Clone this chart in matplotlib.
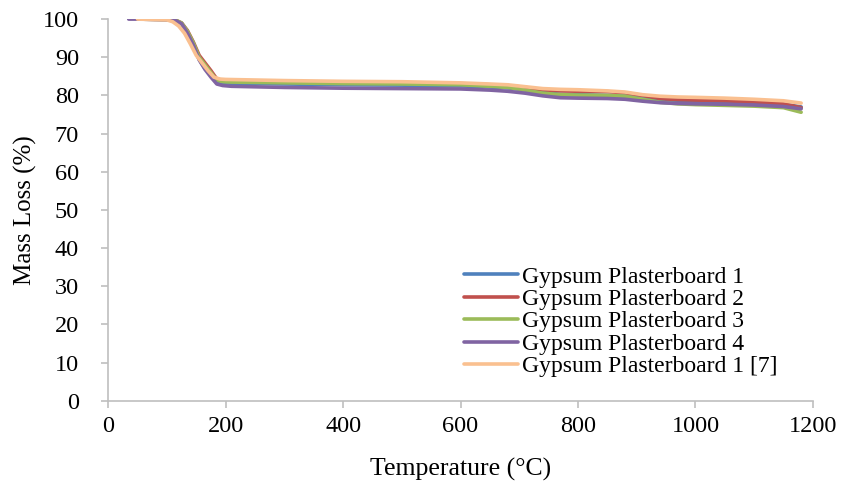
import matplotlib.pyplot as plt

plt.rcParams['font.family'] = ['Liberation Serif', 'DejaVu Serif']

# temperature grid (°C)
temp = [50, 100, 115, 125, 135, 145, 155, 165, 175, 185, 195, 210, 300, 400, 500,
        600, 650, 680, 710, 740, 770, 800, 850, 880, 910, 940, 970, 1000, 1050,
        1100, 1150, 1180]
temp_gp4 = [35] + temp
temp_ref = [50, 100, 110, 120, 130, 140, 150, 160, 170, 180, 190, 200, 300, 400,
            500, 600, 650, 680, 710, 740, 770, 800, 850, 880, 910, 940, 970, 1000,
            1050, 1100, 1150, 1180]

# mass remaining (%)
gp1 = [100, 99.9, 99.6, 98.8, 96.5, 93.5, 89.5, 87.0, 85.5, 83.8, 83.3, 83.2, 83.0,
       82.8, 82.7, 82.5, 82.2, 82.0, 81.5, 80.8, 80.3, 80.2, 80.0, 79.8, 79.2, 78.7,
       78.5, 78.4, 78.3, 78.1, 77.7, 77.0]
gp2 = [100, 99.9, 99.7, 99.0, 97.0, 94.0, 90.5, 88.5, 86.5, 84.3, 84.0, 83.8, 83.6,
       83.4, 83.3, 83.1, 82.8, 82.6, 82.1, 81.5, 81.2, 81.1, 81.0, 80.7, 80.0, 79.2,
       78.9, 78.8, 78.6, 78.3, 77.8, 76.8]
gp3 = [100, 99.9, 99.7, 99.0, 96.8, 93.8, 90.0, 88.0, 86.0, 84.0, 83.6, 83.5, 83.3,
       83.1, 83.0, 82.8, 82.4, 82.1, 81.4, 80.6, 80.2, 80.1, 80.0, 79.8, 79.0, 78.2,
       77.8, 77.6, 77.4, 77.2, 76.8, 75.6]
gp4 = [100, 100, 99.9, 99.6, 98.8, 96.3, 93.2, 89.3, 86.8, 84.8, 83.0, 82.6, 82.4,
       82.1, 81.9, 81.8, 81.7, 81.4, 81.1, 80.6, 79.9, 79.4, 79.3, 79.2, 79.0, 78.5,
       78.1, 77.9, 77.8, 77.7, 77.5, 77.1, 76.5]
gp_ref = [100, 99.8, 99.3, 98.2, 96.3, 93.5, 90.5, 88.5, 86.5, 84.8, 84.3, 84.2, 83.9,
          83.7, 83.6, 83.3, 83.0, 82.8, 82.3, 81.8, 81.6, 81.5, 81.2, 80.9, 80.2, 79.8,
          79.6, 79.5, 79.3, 79.0, 78.6, 78.0]

series = [
    (temp, gp1, '#4f81bd', 'Gypsum Plasterboard 1'),
    (temp, gp2, '#c0504d', 'Gypsum Plasterboard 2'),
    (temp, gp3, '#9bbb59', 'Gypsum Plasterboard 3'),
    (temp_gp4, gp4, '#8064a2', 'Gypsum Plasterboard 4'),
    (temp_ref, gp_ref, '#fac090', 'Gypsum Plasterboard 1 [7]'),
]

fig = plt.figure(figsize=(8.45, 4.9), dpi=100)
ax = fig.add_axes([0.128, 0.182, 0.834, 0.779])

for x, y, c, lab in series:
    ax.plot(x, y, color=c, lw=2.6, label=lab, solid_capstyle='round')

ax.set_xlim(0, 1200)
ax.set_ylim(0, 100)
ax.set_xticks(range(0, 1201, 200))
ax.set_yticks(range(0, 101, 10))

for s in ['top', 'right']:
    ax.spines[s].set_visible(False)
for s in ['left', 'bottom']:
    ax.spines[s].set_color('#bfbfbf')
    ax.spines[s].set_linewidth(1.2)
ax.tick_params(direction='out', length=5, width=1.2, color='#bfbfbf',
               labelsize=17.5, labelcolor='black')
ax.tick_params(axis='x', pad=6)
ax.tick_params(axis='y', pad=16)

ax.set_xlabel('Temperature (°C)', fontsize=18.5, labelpad=15)
ax.set_ylabel('Mass Loss (%)', fontsize=18, labelpad=4)

ax.legend(loc='upper left', bbox_to_anchor=(464 / 845, 1 - 266 / 490),
          bbox_transform=fig.transFigure, frameon=False, fontsize=17,
          handlelength=2.3, handletextpad=0.15, labelspacing=0.04,
          borderpad=0, borderaxespad=0)

fig.savefig('out.png', dpi=100)
